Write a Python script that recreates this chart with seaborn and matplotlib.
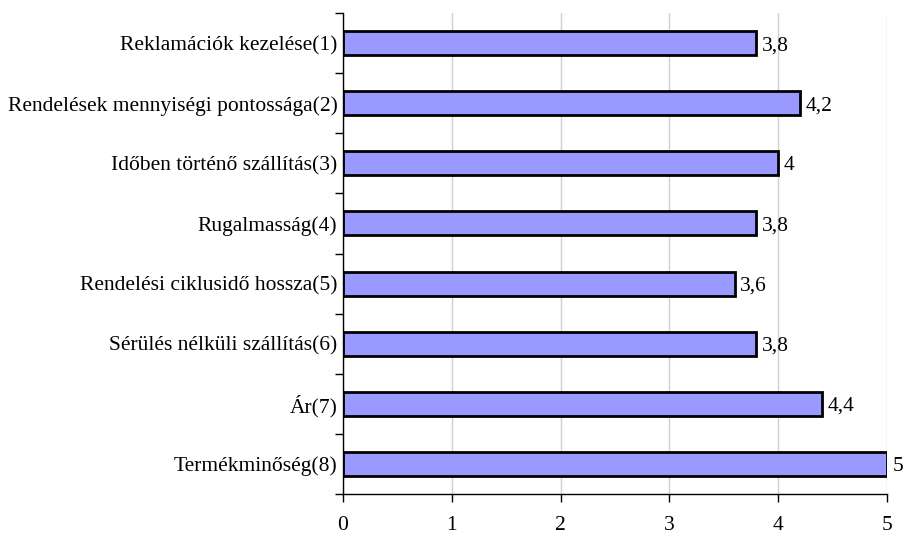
import matplotlib
matplotlib.use("Agg")
import matplotlib.pyplot as plt
import seaborn as sns
import pandas as pd
from matplotlib.ticker import FixedLocator

categories = [
    "Reklamációk kezelése(1)",
    "Rendelések mennyiségi pontossága(2)",
    "Időben történő szállítás(3)",
    "Rugalmasság(4)",
    "Rendelési ciklusidő hossza(5)",
    "Sérülés nélküli szállítás(6)",
    "Ár(7)",
    "Termékminőség(8)",
]
values = [3.8, 4.2, 4.0, 3.8, 3.6, 3.8, 4.4, 5.0]
value_labels = ["3,8", "4,2", "4", "3,8", "3,6", "3,8", "4,4", "5"]
x_ticks = [0, 1, 2, 3, 4, 5]

sns.set_theme(style="white")
plt.rcParams['font.family'] = ['Liberation Serif', 'DejaVu Serif']

FS = 15.5

df = pd.DataFrame({"cat": categories, "val": values})

fig = plt.figure(figsize=(9.06, 5.38), dpi=100)
ax = fig.add_axes([343/906, 1-494/538, (887-343)/906, (494-13)/538])

sns.barplot(data=df, x="val", y="cat", orient="h", color="#9999FF",
            edgecolor="black", linewidth=2, width=0.4, saturation=1, ax=ax)

for p, lab in zip(ax.patches, value_labels):
    ax.text(p.get_x() + p.get_width() + 0.05, p.get_y() + p.get_height()/2, lab,
            va="center_baseline", ha="left", fontsize=FS, color="black")

ax.set_xlim(0, 5)
ax.set_ylim(len(categories) - 0.5, -0.5)
ax.set_xticks(x_ticks)
ax.set_xticklabels([str(t) for t in x_ticks])
ax.xaxis.grid(True, color="#D0D0D0", linewidth=1)
ax.yaxis.grid(False)
ax.set_axisbelow(True)
ax.set_xlabel("")
ax.set_ylabel("")

for s in ["top", "right"]:
    ax.spines[s].set_visible(False)
for s in ["left", "bottom"]:
    ax.spines[s].set_color("black")
    ax.spines[s].set_linewidth(1)

ax.tick_params(axis="y", which="major", length=0, pad=4, labelsize=FS, labelcolor="black")
ax.yaxis.set_minor_locator(FixedLocator([i - 0.5 for i in range(len(categories) + 1)]))
ax.tick_params(axis="y", which="minor", left=True, length=6, width=1, color="black", direction="out")
ax.tick_params(axis="x", which="major", bottom=True, length=6, width=1, color="black",
               direction="out", pad=10, labelsize=FS, labelcolor="black")

fig.savefig("out.png", dpi=100, facecolor="white")
